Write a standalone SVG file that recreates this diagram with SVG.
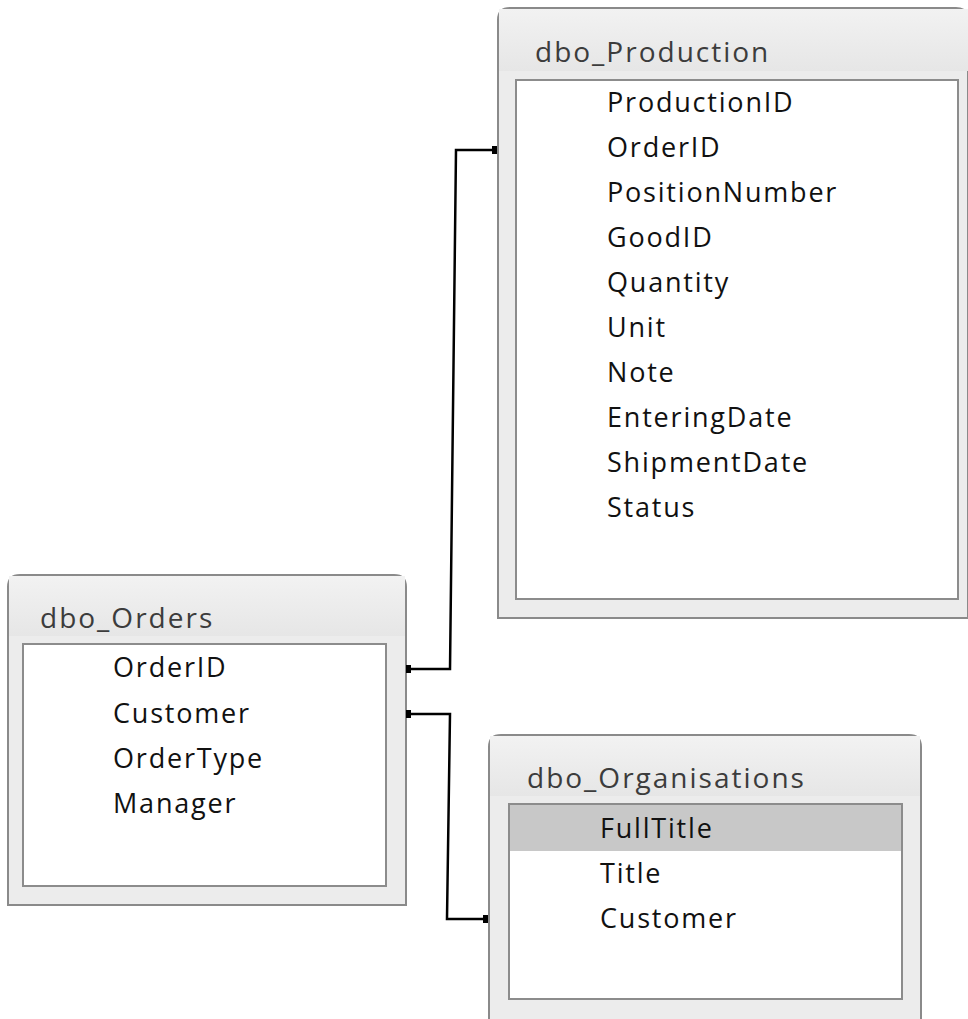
<svg xmlns="http://www.w3.org/2000/svg" width="968" height="1019" viewBox="0 0 968 1019">
  <style>
    .frame { fill: #ececec; stroke: #8a8a8a; stroke-width: 2; }
    .list { fill: #ffffff; stroke: #8c8c8c; stroke-width: 2; }
    .sel { fill: #c8c8c8; }
    .title { font-family: "Open Sans", "Noto Sans", sans-serif; font-size: 28px; fill: #3c3c3c; letter-spacing: 2px; }
    .field { font-family: "Open Sans", "Noto Sans", sans-serif; font-size: 27px; fill: #111111; letter-spacing: 1.8px; }
    .link { fill: none; stroke: #000000; stroke-width: 2.5; stroke-linejoin: miter; }
    .end { fill: #000000; }
  </style>
  <defs>
    <linearGradient id="hdr" x1="0" y1="0" x2="0" y2="1">
      <stop offset="0" stop-color="#f2f2f2"/>
      <stop offset="1" stop-color="#e6e6e6"/>
    </linearGradient>
  </defs>
  <rect width="968" height="1019" fill="#ffffff"/>

  <!-- table: dbo_Production -->
  <g id="dbo_Production">
    <path class="frame" d="M498 618 V20 Q498 8 510 8 H956 Q968 8 968 20 V618 Z"/>
    <rect x="499" y="9" width="469" height="62" fill="url(#hdr)"/>
    <text class="title" x="535" y="62">dbo_Production</text>
    <rect class="list" x="516" y="80" width="442" height="519"/>
    <text class="field" x="607" y="112">ProductionID</text>
    <text class="field" x="607" y="157">OrderID</text>
    <text class="field" x="607" y="202">PositionNumber</text>
    <text class="field" x="607" y="247">GoodID</text>
    <text class="field" x="607" y="292">Quantity</text>
    <text class="field" x="607" y="337">Unit</text>
    <text class="field" x="607" y="382">Note</text>
    <text class="field" x="607" y="427">EnteringDate</text>
    <text class="field" x="607" y="472">ShipmentDate</text>
    <text class="field" x="607" y="517">Status</text>
  </g>

  <!-- table: dbo_Orders -->
  <g id="dbo_Orders">
    <path class="frame" d="M8 905 V587 Q8 575 20 575 H394 Q406 575 406 587 V905 Z"/>
    <rect x="9" y="576" width="396" height="60" fill="url(#hdr)"/>
    <text class="title" x="40" y="628">dbo_Orders</text>
    <rect class="list" x="23" y="644" width="363" height="242"/>
    <text class="field" x="113" y="677">OrderID</text>
    <text class="field" x="113" y="723">Customer</text>
    <text class="field" x="113" y="768">OrderType</text>
    <text class="field" x="113" y="813">Manager</text>
  </g>

  <!-- table: dbo_Organisations -->
  <g id="dbo_Organisations">
    <path class="frame" d="M489 1019 V747 Q489 735 501 735 H909 Q921 735 921 747 V1019"/>
    <rect x="490" y="736" width="430" height="60" fill="url(#hdr)"/>
    <text class="title" x="527" y="788">dbo_Organisations</text>
    <rect class="list" x="509" y="804" width="393" height="195"/>
    <rect class="sel" x="510" y="805" width="391" height="46"/>
    <text class="field" x="600" y="838">FullTitle</text>
    <text class="field" x="600" y="883">Title</text>
    <text class="field" x="600" y="928">Customer</text>
  </g>

  <!-- relationship lines -->
  <g id="connectors">
    <path class="link" d="M408 669 H450 L456 150 H497"/>
    <rect class="end" x="406" y="665" width="5" height="8"/>
    <rect class="end" x="492" y="146" width="5" height="8"/>
    <path class="link" d="M408 714 H450 L447 919 H488"/>
    <rect class="end" x="406" y="710" width="5" height="8"/>
    <rect class="end" x="483" y="915" width="5" height="8"/>
  </g>
</svg>
